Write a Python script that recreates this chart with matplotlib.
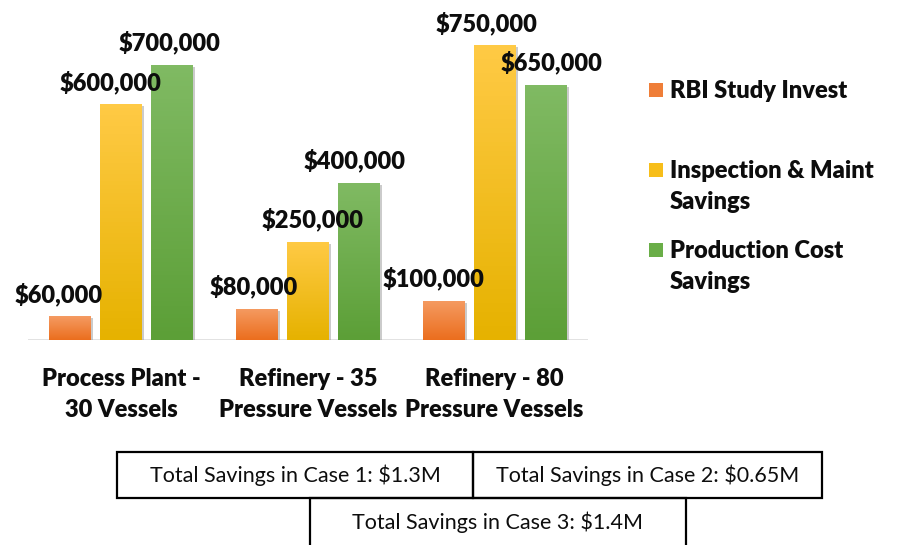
import matplotlib
matplotlib.use("Agg")
import matplotlib.pyplot as plt
import numpy as np
from matplotlib.patches import Rectangle
from matplotlib.colors import LinearSegmentedColormap
import matplotlib.patheffects as pe

categories = ["Process Plant -\n30 Vessels", "Refinery - 35\nPressure Vessels", "Refinery - 80\nPressure Vessels"]
series_names = ["RBI Study Invest", "Inspection & Maint\nSavings", "Production Cost\nSavings"]
rbi_invest = [60000, 80000, 100000]
inspection_savings = [600000, 250000, 750000]
production_savings = [700000, 400000, 650000]
box_texts = ["Total Savings in Case 1: $1.3M", "Total Savings in Case 2: $0.65M", "Total Savings in Case 3: $1.4M"]

series = [rbi_invest, inspection_savings, production_savings]
grad = [("#F59B62", "#EB6E1E"), ("#FFCA45", "#E6B200"), ("#80BA63", "#5C9F37")]
legend_col = ["#EF7E38", "#F7BE1A", "#6AAE48"]
label_dx = [[-12, -3, -10], [-11, 5, -8], [-3, -4, 6]]

BOLD = dict(family="Lato", fontweight="heavy", color="#0D0D0D")

FW, FH = 903, 545
fig = plt.figure(figsize=(FW / 100, FH / 100), dpi=100)
ax = fig.add_axes([28 / FW, 1 - 340 / FH, (588 - 28) / FW, 340 / FH])

x = np.arange(len(categories))
width = 0.225
step = 0.273

for i, vals in enumerate(series):
    xs = x + (i - 1) * step
    bars = ax.bar(xs, vals, width=width, color=legend_col[i], zorder=2,
                  path_effects=[pe.SimplePatchShadow(offset=(1.5, -1.5), shadow_rgbFace="#999999", alpha=0.5),
                                pe.Normal()])
    cmap = LinearSegmentedColormap.from_list("g%d" % i, [grad[i][1], grad[i][0]])
    for b, v in zip(bars, vals):
        img = ax.imshow(np.linspace(0, 1, 64).reshape(-1, 1), cmap=cmap, origin="lower",
                        extent=[b.get_x(), b.get_x() + b.get_width(), 0, v],
                        aspect="auto", zorder=3)
        img.set_clip_path(b)

for i, vals in enumerate(series):
    xs = x + (i - 1) * step
    for v, xc, dx in zip(vals, xs, label_dx[i]):
        ax.annotate("${:,.0f}".format(v), (xc, v), xytext=(dx, 22), textcoords="offset pixels",
                    ha="center", va="center", fontsize=17, zorder=10, **BOLD)

ax.set_xlim(-0.5, 2.5)
ax.set_ylim(0, 865000)
ax.axhline(0, color="#D9D9D9", lw=1.8, zorder=1)
for s in ax.spines.values():
    s.set_visible(False)
ax.set_yticks([])
ax.set_xticks(x)
ax.set_xticklabels(categories, fontsize=17, linespacing=1.5, **BOLD)
ax.tick_params(axis="x", length=0, pad=20)

def fx(px):
    return px / FW

def fy(py):
    return 1 - py / FH

# legend
leg_tops = [83, 163, 243]
for name, c, top in zip(series_names, legend_col, leg_tops):
    fig.add_artist(Rectangle((fx(649), fy(top + 14)), 14 / FW, 14 / FH, transform=fig.transFigure,
                             facecolor=c, edgecolor="none"))
    fig.text(fx(670), fy(top - 3), name, ha="left", va="top", fontsize=17,
             linespacing=1.5, **BOLD)

# boxes
boxes = [(117, 452, 473, 498), (473, 452, 822, 498), (310, 498, 686, 560)]
for (x0, y0, x1, y1), t in zip(boxes, box_texts):
    fig.add_artist(Rectangle((fx(x0), fy(y1)), (x1 - x0) / FW, (y1 - y0) / FH,
                             transform=fig.transFigure, facecolor="none",
                             edgecolor="black", lw=1.6, clip_on=False))
    ty = (y0 + y1) / 2 if y1 < 545 else 522
    fig.text(fx((x0 + x1) / 2), fy(ty), t, ha="center", va="center", fontsize=15.5,
             family="Lato", color="#0D0D0D")

fig.savefig("out.png", dpi=100)
